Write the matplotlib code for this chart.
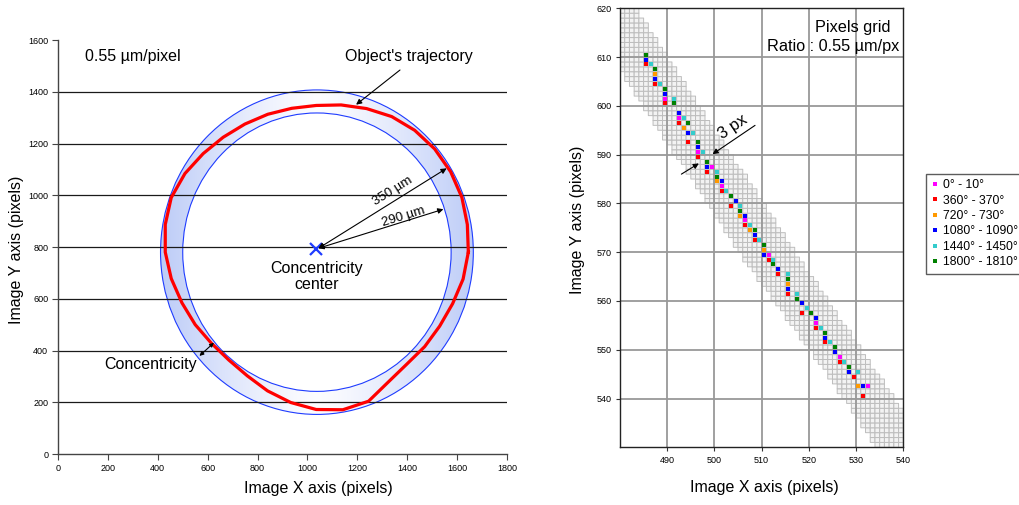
import numpy as np
import matplotlib
matplotlib.use('Agg')
import matplotlib.pyplot as plt
from matplotlib.patches import Circle
from matplotlib.colors import ListedColormap

plt.rcParams['font.family'] = ['Liberation Sans', 'DejaVu Sans']

# ---------------- left panel data ----------------
traj_x = [1645, 1641, 1619, 1574, 1510, 1430, 1338, 1237, 1135, 1035, 937, 841, 749, 662,
          582, 509, 454, 430, 430, 454, 497, 550, 615, 685, 759, 840, 933, 1035, 1142,
          1245, 1325, 1398, 1470, 1530, 1582, 1624, 1645]
traj_y = [780, 887, 992, 1091, 1179, 1251, 1304, 1335, 1349, 1347, 1336, 1313, 1275, 1224,
          1161, 1084, 991, 887, 780, 678, 584, 500, 428, 363, 302, 244, 199, 172, 171,
          204, 279, 347, 415, 494, 581, 676, 780]
ring_center = (1038, 780)
ring_outer_r = 627
ring_inner_r = 538
conc_center = (1035, 792)
left_xticks = [0, 200, 400, 600, 800, 1000, 1200, 1400, 1600, 1800]
left_yticks = [0, 200, 400, 600, 800, 1000, 1200, 1400, 1600]
left_gridy = [200, 400, 600, 800, 1000, 1200, 1400]

# ---------------- right panel data ----------------
series_labels = ['0° - 10°', '360° - 370°', '720° - 730°', '1080° - 1090°',
                 '1440° - 1450°', '1800° - 1810°']
series_colors = ['#ff00ff', '#ff0000', '#ff9900', '#0000ff', '#33cccc', '#008000']

mag_x = [489.5, 492.5, 496.5, 499.5, 501.5, 506.5, 511.5, 521.5, 526.5, 532.5]
mag_y = [601.5, 597.5, 590.5, 587.5, 583.5, 576.5, 569.5, 555.5, 548.5, 542.5]
red_x = [485.5, 487.5, 489.5, 492.5, 494.5, 496.5, 498.5, 501.5, 503.5, 506.5, 508.5,
         511.5, 513.5, 515.5, 518.5, 521.5, 523.5, 526.5, 529.5, 531.5]
red_y = [608.5, 604.5, 600.5, 596.5, 592.5, 589.5, 586.5, 582.5, 579.5, 575.5, 572.5,
         568.5, 565.5, 561.5, 557.5, 554.5, 551.5, 547.5, 544.5, 540.5]
ora_x = [487.5, 493.5, 500.5, 505.5, 507.5, 510.5, 515.5, 530.5]
ora_y = [606.5, 595.5, 584.5, 577.5, 574.5, 570.5, 563.5, 542.5]
blu_x = [485.5, 487.5, 489.5, 492.5, 494.5, 496.5, 498.5, 501.5, 504.5, 506.5, 508.5,
         510.5, 513.5, 515.5, 518.5, 521.5, 523.5, 525.5, 528.5, 531.5]
blu_y = [609.5, 605.5, 602.5, 598.5, 594.5, 591.5, 587.5, 584.5, 580.5, 577.5, 573.5,
         569.5, 566.5, 562.5, 559.5, 556.5, 552.5, 549.5, 545.5, 542.5]
cya_x = [486.5, 488.5, 491.5, 493.5, 495.5, 497.5, 500.5, 502.5, 505.5, 507.5, 509.5,
         512.5, 515.5, 517.5, 519.5, 522.5, 524.5, 527.5, 530.5]
cya_y = [608.5, 604.5, 601.5, 597.5, 594.5, 590.5, 586.5, 582.5, 579.5, 575.5, 572.5,
         568.5, 565.5, 561.5, 558.5, 554.5, 551.5, 547.5, 545.5]
grn_x = [485.5, 487.5, 489.5, 491.5, 494.5, 496.5, 498.5, 500.5, 503.5, 505.5, 508.5,
         510.5, 512.5, 515.5, 517.5, 520.5, 523.5, 525.5, 528.5]
grn_y = [610.5, 607.5, 603.5, 600.5, 596.5, 592.5, 588.5, 585.5, 581.5, 578.5, 574.5,
         571.5, 567.5, 564.5, 560.5, 557.5, 553.5, 550.5, 546.5]

band_y = [620, 600, 570, 540, 530]
band_left = [471.3, 485.1, 505.3, 527.6, 534.3]
band_right = [483.2, 496.7, 517.0, 538.0, 544.7]
right_xticks = [490, 500, 510, 520, 530, 540]
right_yticks = [540, 550, 560, 570, 580, 590, 600, 610, 620]
right_gridx = [490, 500, 510, 520, 530]
right_gridy = [540, 550, 560, 570, 580, 590, 600, 610]

# ---------------- figure ----------------
W, H = 1019, 505
fig = plt.figure(figsize=(W / 100, H / 100), dpi=100)

# ===== left panel =====
ax1 = fig.add_axes([58 / W, 1 - 454 / H, 449 / W, 414 / H])
cx, cy = ring_center
R = ring_outer_r
xs = np.linspace(cx - R, cx + R, 500)
t = np.clip(np.abs(xs - cx) / R, 0, 1) ** 1.3
dark = np.array([0.74, 0.80, 0.97])
light = np.array([0.99, 0.99, 1.0])
row = light[None, :] * (1 - t[:, None]) + dark[None, :] * t[:, None]
img = np.tile(row[None, :, :], (2, 1, 1))
im = ax1.imshow(img, extent=[cx - R, cx + R, cy - R, cy + R], origin='lower',
                aspect='auto', zorder=1, interpolation='bilinear')
clip = Circle((cx, cy), R, facecolor='none', edgecolor='none')
ax1.add_patch(clip)
im.set_clip_path(clip)
ax1.add_patch(Circle((cx, cy), ring_inner_r, facecolor='white', edgecolor='none', zorder=1.1))
ax1.add_patch(Circle((cx, cy), R, fill=False, edgecolor='#1f3cff', lw=0.8, zorder=1.2))
ax1.add_patch(Circle((cx, cy), ring_inner_r, fill=False, edgecolor='#1f3cff', lw=0.8, zorder=1.2))
for gy in left_gridy:
    ax1.axhline(gy, color='#1a1a1a', lw=0.9, zorder=1.5)
ax1.plot(traj_x, traj_y, color='#ff0000', lw=2.3, zorder=3, solid_joinstyle='round')
ax1.plot([conc_center[0]], [conc_center[1]], marker='x', color='#1f3cff', ms=8, mew=1.6,
         zorder=4, linestyle='none')

ax1.set_xlim(0, 1800)
ax1.set_ylim(0, 1600)
ax1.set_aspect('auto')
ax1.set_xticks(left_xticks)
ax1.set_yticks(left_yticks)
ax1.tick_params(direction='out', length=4, width=0.8, labelsize=6.5, color='#444444', pad=3)
for s in ['top', 'right']:
    ax1.spines[s].set_visible(False)
for s in ['left', 'bottom']:
    ax1.spines[s].set_color('#444444')
    ax1.spines[s].set_linewidth(1.0)
ax1.set_xlabel('Image X axis (pixels)', fontsize=11.5)
ax1.xaxis.set_label_coords(0.581, -0.066)
ax1.set_ylabel('Image Y axis (pixels)', fontsize=11.5)
ax1.yaxis.set_label_coords(-0.075, 0.493)

arrow_kw = dict(color='black', lw=0.8, shrinkA=0, shrinkB=0, mutation_scale=8)
ax1.text(110, 1535, '0.55 µm/pixel', fontsize=11.5, ha='left', va='center')
ax1.text(1408, 1535, "Object's trajectory", fontsize=11.5, ha='center', va='center')
ax1.annotate('', xy=(1195, 1350), xytext=(1371, 1484),
             arrowprops=dict(arrowstyle='-|>', **arrow_kw), zorder=5)
ax1.annotate('', xy=(1558, 1104), xytext=(1044, 795),
             arrowprops=dict(arrowstyle='<|-|>', **arrow_kw), zorder=5)
ax1.annotate('', xy=(1545, 946), xytext=(1044, 795),
             arrowprops=dict(arrowstyle='<|-|>', **arrow_kw), zorder=5)
ax1.text(1342, 1016, '350 µm', fontsize=9.5, rotation=32, ha='center', va='center',
         rotation_mode='anchor')
ax1.text(1384, 918, '290 µm', fontsize=9.5, rotation=17, ha='center', va='center',
         rotation_mode='anchor')
ax1.text(1037, 686, 'Concentricity\ncenter', fontsize=11.5, ha='center', va='center',
         linespacing=1.15)
ax1.text(370, 344, 'Concentricity', fontsize=11.5, ha='center', va='center')
ax1.annotate('', xy=(625, 430), xytext=(567, 379),
             arrowprops=dict(arrowstyle='<|-|>', color='black', lw=0.8, shrinkA=0,
                             shrinkB=0, mutation_scale=6), zorder=5)

# ===== right panel =====
ax2 = fig.add_axes([620 / W, 1 - 447.3 / H, 283.3 / W, 439 / H])
gx = np.arange(480, 541)
gyy = np.arange(530, 621)
ccx = gx[:-1] + 0.5
ccy = gyy[:-1] + 0.5
Lc = np.interp(ccy, band_y[::-1], band_left[::-1])
Rc = np.interp(ccy, band_y[::-1], band_right[::-1])
inside = (ccx[None, :] >= Lc[:, None]) & (ccx[None, :] <= Rc[:, None])
C = np.ma.masked_where(~inside, np.ones(inside.shape))
ax2.pcolor(gx, gyy, C, cmap=ListedColormap(['#f3f3f3']), edgecolors='#bdbdbd',
           linewidth=0.7, zorder=1)
for g in right_gridx:
    ax2.axvline(g, color='#999999', lw=1.3, zorder=1.5)
for g in right_gridy:
    ax2.axhline(g, color='#999999', lw=1.3, zorder=1.5)

series = [(mag_x, mag_y), (red_x, red_y), (ora_x, ora_y), (blu_x, blu_y),
          (cya_x, cya_y), (grn_x, grn_y)]
for (sx, sy), lab, col in zip(series, series_labels, series_colors):
    ax2.plot(sx, sy, linestyle='none', marker='s', ms=2.8, mew=0, color=col,
             label=lab, zorder=3)

ax2.set_xlim(480, 540)
ax2.set_ylim(530, 620)
ax2.set_xticks(right_xticks)
ax2.set_yticks(right_yticks)
ax2.tick_params(direction='out', length=3, width=0.8, labelsize=6.5, color='#333333', pad=3)
for s in ax2.spines.values():
    s.set_color('#222222')
    s.set_linewidth(1.0)
ax2.set_xlabel('Image X axis (pixels)', fontsize=11.5)
ax2.xaxis.set_label_coords(0.508, -0.075)
ax2.set_ylabel('Image Y axis (pixels)', fontsize=11.5)
ax2.yaxis.set_label_coords(-0.122, 0.518)

ax2.text(529.2, 616.1, 'Pixels grid', fontsize=11.7, ha='center', va='center')
ax2.text(525.1, 612.2, 'Ratio : 0.55 µm/px', fontsize=11.7, ha='center', va='center')
ax2.text(504.0, 595.6, '3 px', fontsize=12, rotation=34, ha='center', va='center',
         rotation_mode='anchor')
ax2.annotate('', xy=(499.6, 590.1), xytext=(508.6, 596.0),
             arrowprops=dict(arrowstyle='-|>', **arrow_kw), zorder=5)
ax2.annotate('', xy=(496.7, 588.2), xytext=(493.0, 586.0),
             arrowprops=dict(arrowstyle='-|>', **arrow_kw), zorder=5)

leg = ax2.legend(loc='upper left', bbox_to_anchor=(926 / W, 1 - 173.7 / H),
                 bbox_transform=fig.transFigure, fontsize=8.8, frameon=True,
                 fancybox=False, borderaxespad=0, borderpad=0.45, handlelength=0.5,
                 handletextpad=0.45, labelspacing=0.28, markerscale=1.0)
leg.get_frame().set_edgecolor('#333333')
leg.get_frame().set_linewidth(1.0)

fig.savefig('out.png', dpi=100)
